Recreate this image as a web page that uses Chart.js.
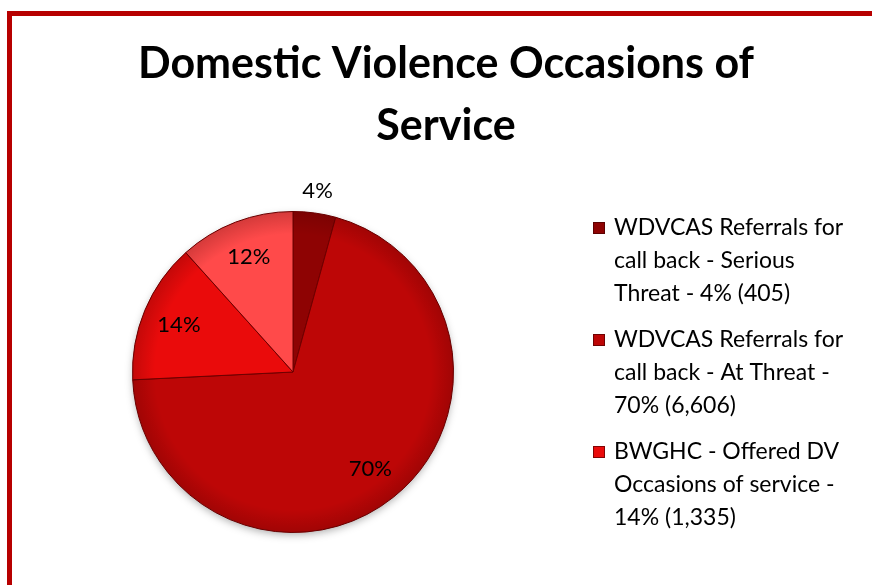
<!DOCTYPE html>
<html>
<head>
<meta charset="utf-8">
<title>Domestic Violence Occasions of Service</title>
<script src="https://cdn.jsdelivr.net/npm/chart.js@4"></script>
<style>
  html, body { margin: 0; padding: 0; background: #fff; overflow: hidden; }
  canvas { display: block; }
</style>
</head>
<body>
<canvas id="dvChart" width="872" height="585"></canvas>
<script>
// slice data, clockwise from 12 o'clock
const categories = [
  'WDVCAS Referrals for call back - Serious Threat',
  'WDVCAS Referrals for call back - At Threat',
  'BWGHC - Offered DV Occasions of service',
  'Other DV Occasions of service'
];
const occasions = [405, 6606, 1335, 1100];
const sliceColors = ['#8e0303', '#bd0606', '#ea0b0b', '#ff4a4a'];
const titleLines = ['Domestic Violence Occasions of', 'Service'];
const legendShown = 3; // last entry is clipped off in the original

const total = occasions.reduce((a, b) => a + b, 0);
const pct = v => Math.round(v / total * 100);

const FONT = 'Lato, "Open Sans", sans-serif';

// wrap text to a max width
function wrap(ctx, text, maxW) {
  const words = text.split(' ');
  const lines = [];
  let cur = '';
  words.forEach(w => {
    const test = cur ? cur + ' ' + w : w;
    if (ctx.measureText(test).width > maxW && cur) {
      lines.push(cur);
      cur = w;
    } else {
      cur = test;
    }
  });
  if (cur) lines.push(cur);
  return lines;
}

const decor = {
  id: 'decor',
  beforeDraw(chart) {
    const ctx = chart.ctx;
    ctx.save();
    // red frame (only left & top edges are in view)
    ctx.fillStyle = '#b70000';
    ctx.fillRect(7, 11, 5, 600);
    ctx.fillRect(7, 11, 900, 5);
    // title
    ctx.fillStyle = '#000';
    ctx.font = 'bold 43px ' + FONT;
    ctx.textAlign = 'center';
    ctx.textBaseline = 'alphabetic';
    ctx.fillText(titleLines[0], 446, 78);
    ctx.fillText(titleLines[1], 446, 140);
    ctx.restore();
  },
  beforeDatasetsDraw(chart) {
    // soft shadow under the pie
    const arc = chart.getDatasetMeta(0).data[0];
    if (!arc) return;
    const { x, y, outerRadius } = arc.getProps(['x', 'y', 'outerRadius'], true);
    const ctx = chart.ctx;
    ctx.save();
    ctx.shadowColor = 'rgba(0,0,0,0.35)';
    ctx.shadowBlur = 8;
    ctx.shadowOffsetY = 3;
    ctx.beginPath();
    ctx.arc(x, y, outerRadius - 1, 0, Math.PI * 2);
    ctx.fillStyle = '#a00000';
    ctx.fill();
    ctx.restore();
  },
  afterDatasetsDraw(chart) {
    const ctx = chart.ctx;
    const meta = chart.getDatasetMeta(0);
    ctx.save();

    // darker rim, a hint of the bevelled look
    const a0 = meta.data[0].getProps(['x', 'y', 'outerRadius'], true);
    const rim = ctx.createRadialGradient(a0.x, a0.y, a0.outerRadius * 0.86, a0.x, a0.y, a0.outerRadius);
    rim.addColorStop(0, 'rgba(60,0,0,0)');
    rim.addColorStop(1, 'rgba(60,0,0,0.22)');
    ctx.beginPath();
    ctx.arc(a0.x, a0.y, a0.outerRadius, 0, Math.PI * 2);
    ctx.fillStyle = rim;
    ctx.fill();

    ctx.fillStyle = '#000';
    ctx.font = '22px ' + FONT;
    ctx.textAlign = 'center';
    ctx.textBaseline = 'middle';
    meta.data.forEach((arc, i) => {
      const p = arc.getProps(['x', 'y', 'startAngle', 'endAngle', 'outerRadius'], true);
      const mid = (p.startAngle + p.endAngle) / 2;
      const v = pct(occasions[i]);
      const f = v < 6 ? 1.14 : 0.77;
      ctx.fillText(v + '%', p.x + Math.cos(mid) * p.outerRadius * f, p.y + Math.sin(mid) * p.outerRadius * f);
    });

    // legend
    ctx.font = '23px ' + FONT;
    ctx.textAlign = 'left';
    ctx.textBaseline = 'alphabetic';
    let y = 235;
    for (let i = 0; i < legendShown; i++) {
      const txt = categories[i] + ' - ' + pct(occasions[i]) + '% (' + occasions[i].toLocaleString('en-US') + ')';
      const lines = wrap(ctx, txt, 240);
      // marker with a little bevel
      const mx = 593, my = y - 13;
      ctx.fillStyle = sliceColors[i];
      ctx.fillRect(mx, my, 12, 12);
      ctx.strokeStyle = 'rgba(60,0,0,0.6)';
      ctx.lineWidth = 1;
      ctx.strokeRect(mx + 0.5, my + 0.5, 11, 11);
      ctx.fillStyle = '#000';
      lines.forEach((ln, k) => ctx.fillText(ln, 614, y + k * 33));
      y += lines.length * 33 + 13;
    }
    ctx.restore();
  }
};

new Chart(document.getElementById('dvChart'), {
  type: 'pie',
  data: {
    labels: categories,
    datasets: [{
      data: occasions,
      backgroundColor: sliceColors,
      borderColor: '#6e0000',
      borderWidth: 1
    }]
  },
  options: {
    responsive: false,
    animation: false,
    devicePixelRatio: 1,
    layout: {
      padding: { left: 132, right: 418, top: 211, bottom: 52 }
    },
    plugins: {
      legend: { display: false },
      title: { display: false },
      tooltip: {
        callbacks: {
          label: c => `${c.parsed.toLocaleString('en-US')} (${pct(c.parsed)}%)`
        }
      }
    }
  },
  plugins: [decor]
});
</script>
</body>
</html>
